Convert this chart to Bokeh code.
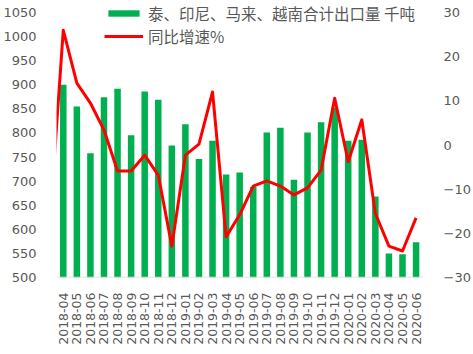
import math
from bokeh.plotting import figure
from bokeh.models import (Range1d, LinearAxis, FixedTicker, Legend, LegendItem, ColumnDataSource)
from bokeh.embed import file_html
from bokeh.resources import INLINE

# ---- data ----
months = ["2018-04", "2018-05", "2018-06", "2018-07", "2018-08", "2018-09", "2018-10",
          "2018-11", "2018-12", "2019-01", "2019-02", "2019-03", "2019-04", "2019-05",
          "2019-06", "2019-07", "2019-08", "2019-09", "2019-10", "2019-11", "2019-12",
          "2020-01", "2020-02", "2020-03", "2020-04", "2020-05", "2020-06"]
exports = [900, 855, 758, 874, 892, 795, 886, 869, 774, 818, 746, 784, 714, 718,
           688, 801, 811, 703, 801, 822, 853, 784, 786, 668, 550, 548, 573]
# growth series (starts one month earlier, 2018-03, partly outside the plot)
growth_months = ["2018-03"] + months
growth = [-18.0, 26.0, 14.0, 9.5, 3.4, -5.9, -5.9, -2.3, -6.8, -22.9, -2.3, 0.2, 12.0,
          -20.8, -15.8, -9.3, -8.1, -9.3, -11.3, -9.7, -5.7, 10.6, -3.8, 5.7, -15.5,
          -22.9, -24.0, -16.5]
left_ticks = [500, 550, 600, 650, 700, 750, 800, 850, 900, 950, 1000, 1050]
right_ticks = [-30, -20, -10, 0, 10, 20, 30]
bar_label = "泰、印尼、马来、越南合计出口量 千吨"
line_label = "同比增速%"

# positions derived from category order
xs = list(range(len(months)))
gxs = [i - 1 for i in range(len(growth_months))]

bar_src = ColumnDataSource(dict(x=xs, top=exports, month=months))
line_src = ColumnDataSource(dict(x=gxs, y=growth, month=growth_months))

GRAY = "#595959"
NUM_FONT = "DejaVu Sans"
CJK_FONT = "Noto Sans CJK SC"

# frame spans full height above the axis; ranges padded so the top ticks sit 12px below
FRAME_H = 277
left_span = left_ticks[-1] - left_ticks[0]
right_span = right_ticks[-1] - right_ticks[0]
pad_frac = 12 / (FRAME_H - 12)
# frame extends 15px right of the category area so the legend text is not clipped
CAT_W = 375
x_lo, x_hi = -0.5, len(months) - 0.5
x_extra = (x_hi - x_lo) * 15 / CAT_W

p = figure(width=473, height=354, output_backend="svg", toolbar_location=None,
           x_range=Range1d(x_lo, x_hi + x_extra),
           y_range=Range1d(left_ticks[0], left_ticks[-1] + left_span * pad_frac),
           min_border_left=50, min_border_right=33, min_border_top=0, min_border_bottom=77)
p.outline_line_color = None
p.xgrid.visible = False
p.ygrid.visible = False
p.background_fill_color = "white"
p.border_fill_color = "white"

p.extra_y_ranges = {"pct": Range1d(right_ticks[0], right_ticks[-1] + right_span * pad_frac)}

bars = p.vbar(x="x", top="top", bottom=left_ticks[0], width=0.48, source=bar_src,
              fill_color="#00B050", line_color=None)
line = p.line(x="x", y="y", source=line_src, y_range_name="pct",
              line_color="#FF0000", line_width=3, line_join="round")
# category axis baseline (only under the categories)
p.segment(x0=x_lo, x1=x_hi, y0=left_ticks[0], y1=left_ticks[0],
          line_color="#D9D9D9", line_width=1.5)

# x axis
xa = p.xaxis[0]
xa.ticker = FixedTicker(ticks=xs)
xa.major_label_overrides = {i: m for i, m in zip(xs, months)}
xa.major_label_orientation = math.pi / 2
xa.major_tick_line_color = None
xa.minor_tick_line_color = None
xa.axis_line_color = None
xa.major_label_text_font = NUM_FONT
xa.major_label_text_font_size = "12.5px"
xa.major_label_text_color = GRAY
xa.major_label_standoff = 9

# left axis
ya = p.yaxis[0]
ya.ticker = FixedTicker(ticks=left_ticks)
ya.major_tick_line_color = None
ya.minor_tick_line_color = None
ya.axis_line_color = None
ya.major_label_text_font = NUM_FONT
ya.major_label_text_font_size = "13px"
ya.major_label_text_color = GRAY
ya.major_label_standoff = 14

# right axis
ra = LinearAxis(y_range_name="pct", ticker=FixedTicker(ticks=right_ticks))
ra.major_tick_line_color = None
ra.minor_tick_line_color = None
ra.axis_line_color = None
ra.major_label_text_font = NUM_FONT
ra.major_label_text_font_size = "13px"
ra.major_label_text_color = GRAY
ra.major_label_standoff = 0
p.add_layout(ra, "right")

legend = Legend(items=[LegendItem(label=bar_label, renderers=[bars]),
                       LegendItem(label=line_label, renderers=[line])],
                location=(48, 230), orientation="vertical",
                glyph_width=39, glyph_height=8, label_height=20, spacing=1,
                label_standoff=5, padding=0, margin=0,
                border_line_color=None, background_fill_alpha=0,
                label_text_font=CJK_FONT, label_text_font_size="15.5px",
                label_text_color=GRAY)
p.add_layout(legend, "center")

open("out.html", "w").write(file_html(p, INLINE))
